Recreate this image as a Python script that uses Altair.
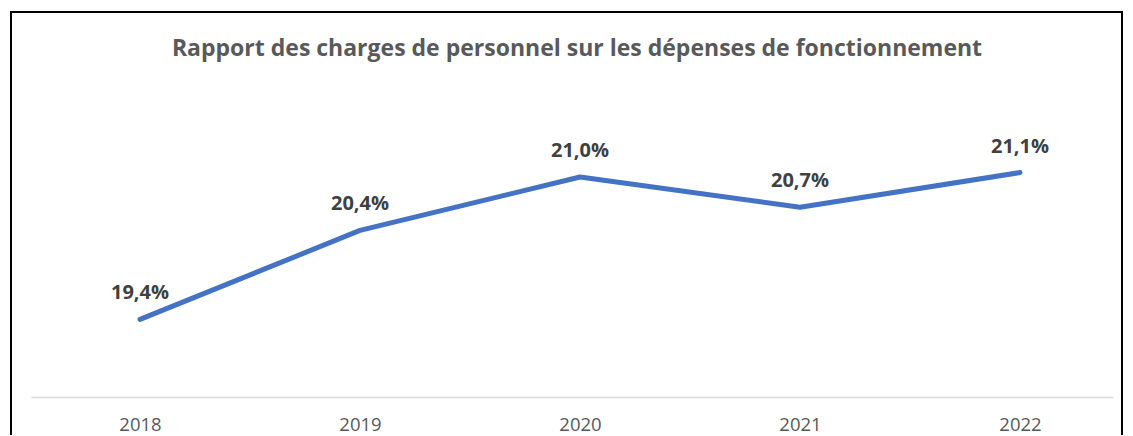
import altair as alt
import pandas as pd

years = [2018, 2019, 2020, 2021, 2022]
values = [19.4, 20.4, 21.0, 20.66, 21.05]
labels = ["19,4%", "20,4%", "21,0%", "20,7%", "21,1%"]
title_text = "Rapport des charges de personnel sur les dépenses de fonctionnement"

df = pd.DataFrame({"year": years, "value": values, "label": labels})

W, H = 1082, 317

x = alt.X(
    "year:Q",
    scale=alt.Scale(domain=[2017.5045, 2022.4227], nice=False, zero=False),
    axis=alt.Axis(values=years, format="d", title=None, ticks=False, grid=False,
                  domainColor="#d9d9d9", domainWidth=1.5, labelFont="Open Sans",
                  labelFontSize=18.5, labelColor="#595959", labelPadding=18),
)
y = alt.Y("value:Q", scale=alt.Scale(domain=[18.528, 22.09], nice=False, zero=False), axis=None)

one = pd.DataFrame({"t": [title_text]})

border = alt.Chart(one).mark_rect(
    fillOpacity=0, stroke="black", strokeWidth=2
).encode(x=alt.value(-20), x2=alt.value(1091), y=alt.value(-68), y2=alt.value(420))

title = alt.Chart(one).mark_text(
    font="Open Sans", fontSize=23, fontWeight="bold", color="#595959",
    align="center", baseline="middle"
).encode(x=alt.value(546), y=alt.value(-31), text="t:N")

line = alt.Chart(df).mark_line(color="#4472C4", strokeWidth=5, strokeCap="round", strokeJoin="round").encode(x=x, y=y)

text = alt.Chart(df).mark_text(
    font="Open Sans", fontSize=20, fontWeight="bold", color="#404040", dy=-26
).encode(x=x, y=y, text="label:N")

chart = alt.layer(border, title, line, text).properties(
    width=W, height=H,
    autosize="none",
    padding={"left": 23, "top": 72, "right": 11, "bottom": 38},
).configure_view(stroke=None)

chart.save("out.html", embed_options={"renderer": "svg", "actions": False})
